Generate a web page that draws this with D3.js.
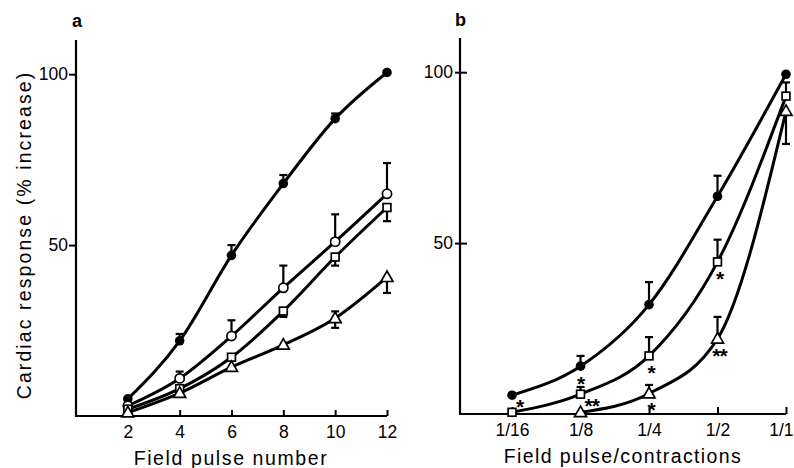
<!DOCTYPE html>
<html>
<head>
<meta charset="utf-8">
<script src="https://cdn.jsdelivr.net/npm/d3@7"></script>
<style>
  body { margin: 0; background: #fff; }
  text { font-family: "Liberation Sans", Arial, sans-serif; fill: #000; }
</style>
</head>
<body>
<div id="chart"></div>
<script>
// panel a: response vs number of field pulses
var pulseNumbers = [2, 4, 6, 8, 10, 12];
var aFilled      = [5, 22, 47, 68, 87, 100.5];
var aFilledUp    = [0, 2, 3, 2.5, 1.5, 0];
var aOpen        = [3, 11, 23.4, 37.5, 51, 65];
var aOpenUp      = [0, 2, 4.6, 6.5, 8, 9];
var aSquare      = [2, 8, 17.2, 30.7, 46.5, 61];
var aSquareDown  = [0, 0, 0, 1.7, 2.5, 4];
var aTriangle    = [1, 6.7, 14.3, 20.8, 28.6, 40.6];
var aTriangleUp  = [0, 0, 0, 0, 2, 0];
var aTriangleDown= [0, 0, 0, 0, 2.8, 4.6];

// panel b: response vs field pulse / contractions ratio
var ratioLabels  = ['1/16', '1/8', '1/4', '1/2', '1/1'];
var ratios       = [1 / 16, 1 / 8, 1 / 4, 1 / 2, 1];
var bFilled      = [5.5, 14, 32, 63.7, 99.4];
var bFilledUp    = [0, 3, 6.6, 6, 0];
var bSquare      = [0.5, 5.8, 17, 44.5, 93];
var bSquareUp    = [0, 2.1, 5.5, 6.5, 4];
var bTriangle    = [null, 0.5, 6, 22, 88.6];
var bTriangleUp  = [0, 0, 2.5, 6.4, 0];
var bTriangleDown= [0, 0, 0, 0, 9.6];

// significance marks in panel b
var starAt   = [1 / 16, 1 / 8, 1 / 8, 1 / 4, 1 / 4, 1 / 2, 1 / 2];
var starOf   = ['disc', 'square', 'square', 'square', 'triangle', 'square', 'triangle'];
var starText = ['*', '*', '**', '*', '*', '*', '**'];
var starSide = ['right', 'above', 'right', 'below', 'below', 'below', 'below'];

var yTicks = [50, 100];

var W = 794, H = 468;
var svg = d3.select('#chart').append('svg')
    .attr('width', W)
    .attr('height', H);

function series(sym, ys, up, down) {
    var none = ys.map(function () { return 0; });
    return { sym: sym, y: ys, up: up || none, down: down || none };
}

function drawMarker(g, sym, cx, cy) {
    if (sym === 'disc') {
        g.append('circle').attr('cx', cx).attr('cy', cy).attr('r', 4.8).attr('fill', '#000');
    } else if (sym === 'circle') {
        g.append('circle').attr('cx', cx).attr('cy', cy).attr('r', 4.6)
            .attr('fill', '#fff').attr('stroke', '#000').attr('stroke-width', 1.7);
    } else if (sym === 'square') {
        g.append('rect').attr('x', cx - 3.9).attr('y', cy - 3.9).attr('width', 7.8).attr('height', 7.8)
            .attr('fill', '#fff').attr('stroke', '#000').attr('stroke-width', 1.7);
    } else {
        var p = [[cx, cy - 6.2], [cx + 6, cy + 4.3], [cx - 6, cy + 4.3]];
        g.append('path').attr('d', 'M' + p.join('L') + 'Z')
            .attr('fill', '#fff').attr('stroke', '#000').attr('stroke-width', 1.7);
    }
}

function drawSeries(g, x, y, xs, s) {
    var pts = xs.map(function (xv, i) {
        return { x: xv, y: s.y[i], up: s.up[i], down: s.down[i] };
    }).filter(function (d) { return d.y != null; });

    var line = d3.line()
        .x(function (d) { return x(d.x); })
        .y(function (d) { return y(d.y); })
        .curve(d3.curveMonotoneX);

    g.append('path')
        .attr('d', line(pts))
        .attr('fill', 'none')
        .attr('stroke', '#000')
        .attr('stroke-width', 3);

    pts.forEach(function (d) {
        [d.up, -d.down].forEach(function (e) {
            if (!e) return;
            var x0 = x(d.x), y0 = y(d.y), y1 = y(d.y + e);
            g.append('line').attr('x1', x0).attr('x2', x0).attr('y1', y0).attr('y2', y1)
                .attr('stroke', '#000').attr('stroke-width', 2.2);
            g.append('line').attr('x1', x0 - 4).attr('x2', x0 + 4).attr('y1', y1).attr('y2', y1)
                .attr('stroke', '#000').attr('stroke-width', 2.2);
        });
    });

    pts.forEach(function (d) { drawMarker(g, s.sym, x(d.x), y(d.y)); });
}

function styleAxis(g) {
    g.selectAll('path.domain').remove();
    g.selectAll('line').attr('stroke', '#000').attr('stroke-width', 2);
    g.selectAll('text').attr('font-size', 17.5).attr('fill', '#000');
}

// ---------- panel a ----------
var xA = d3.scaleLinear().domain([0, 12]).range([76, 387]);
var yA = d3.scaleLinear().domain([0, 110]).range([416, 40]);

var gA = svg.append('g');

gA.append('line').attr('x1', xA(0)).attr('x2', xA(0)).attr('y1', yA(0)).attr('y2', yA(110))
    .attr('stroke', '#000').attr('stroke-width', 2.2);
gA.append('line').attr('x1', xA(0) - 1).attr('x2', xA(12)).attr('y1', yA(0)).attr('y2', yA(0))
    .attr('stroke', '#000').attr('stroke-width', 2.2);

gA.append('g')
    .attr('transform', 'translate(0,' + yA(0) + ')')
    .call(d3.axisBottom(xA).tickValues(pulseNumbers).tickSizeInner(-6).tickSizeOuter(0).tickPadding(10))
    .call(styleAxis);

gA.append('g')
    .attr('transform', 'translate(' + xA(0) + ',0)')
    .call(d3.axisLeft(yA).tickValues(yTicks).tickSizeInner(7).tickSizeOuter(0).tickPadding(1))
    .call(styleAxis);

[
    series('disc', aFilled, aFilledUp),
    series('circle', aOpen, aOpenUp),
    series('square', aSquare, null, aSquareDown),
    series('triangle', aTriangle, aTriangleUp, aTriangleDown)
].forEach(function (s) { drawSeries(gA, xA, yA, pulseNumbers, s); });

gA.append('text').attr('x', 72).attr('y', 27).attr('font-size', 18).attr('font-weight', 'bold').text('a');

gA.append('text')
    .attr('x', 231).attr('y', 465)
    .attr('text-anchor', 'middle')
    .attr('font-size', 19.5).attr('letter-spacing', 1.6)
    .text('Field pulse number');

gA.append('text')
    .attr('transform', 'translate(31,235) rotate(-90)')
    .attr('text-anchor', 'middle')
    .attr('font-size', 19.5).attr('letter-spacing', 2.1)
    .text('Cardiac response (% increase)');

// ---------- panel b ----------
var xB = d3.scaleLog().base(2).domain([Math.pow(2, -4.76), 1]).range([460, 786]);
var yB = d3.scaleLinear().domain([0, 110]).range([414, 38]);
var xLeft = xB.domain()[0];

var gB = svg.append('g');

gB.append('line').attr('x1', xB(xLeft)).attr('x2', xB(xLeft)).attr('y1', yB(0)).attr('y2', yB(110))
    .attr('stroke', '#000').attr('stroke-width', 2.2);
gB.append('line').attr('x1', xB(xLeft) - 1).attr('x2', xB(1)).attr('y1', yB(0)).attr('y2', yB(0))
    .attr('stroke', '#000').attr('stroke-width', 2.2);

gB.append('g')
    .attr('transform', 'translate(0,' + yB(0) + ')')
    .call(d3.axisBottom(xB).tickValues(ratios).tickFormat(function (d, i) { return ratioLabels[i]; })
        .tickSizeInner(-7).tickSizeOuter(0).tickPadding(10))
    .call(styleAxis)
    .call(function (g) {
        // last label sits at the page edge: pull it in so it stays whole
        g.selectAll('.tick:last-of-type text').attr('text-anchor', 'end').attr('dx', 7);
    });

var yAxisB = gB.append('g')
    .attr('transform', 'translate(' + xB(xLeft) + ',0)')
    .call(d3.axisLeft(yB).tickValues(yTicks).tickSizeInner(5).tickSizeOuter(0).tickPadding(2))
    .call(styleAxis);
yAxisB.selectAll('.tick').append('line').attr('x1', 0).attr('x2', 7)
    .attr('stroke', '#000').attr('stroke-width', 2);

var seriesB = {
    disc: series('disc', bFilled, bFilledUp),
    square: series('square', bSquare, bSquareUp),
    triangle: series('triangle', bTriangle, bTriangleUp, bTriangleDown)
};
['disc', 'square', 'triangle'].forEach(function (k) { drawSeries(gB, xB, yB, ratios, seriesB[k]); });

starAt.forEach(function (r, i) {
    var s = seriesB[starOf[i]];
    var v = s.y[ratios.indexOf(r)];
    var cx = xB(r), cy = yB(v);
    var anchor = 'middle';
    if (starSide[i] === 'right') { cx += 4; cy += 7; anchor = 'start'; }
    else if (starSide[i] === 'above') { cy -= 15; }
    else { cy += 12; cx += 2; }
    gB.append('text')
        .attr('x', cx).attr('y', cy + 12)
        .attr('text-anchor', anchor)
        .attr('font-size', 21).attr('font-weight', 'bold')
        .attr('letter-spacing', -1)
        .text(starText[i]);
});

gB.append('text').attr('x', 455).attr('y', 26).attr('font-size', 18).attr('font-weight', 'bold').text('b');

gB.append('text')
    .attr('x', 623).attr('y', 463)
    .attr('text-anchor', 'middle')
    .attr('font-size', 19.5).attr('letter-spacing', 1.4)
    .text('Field pulse/contractions');
</script>
</body>
</html>
